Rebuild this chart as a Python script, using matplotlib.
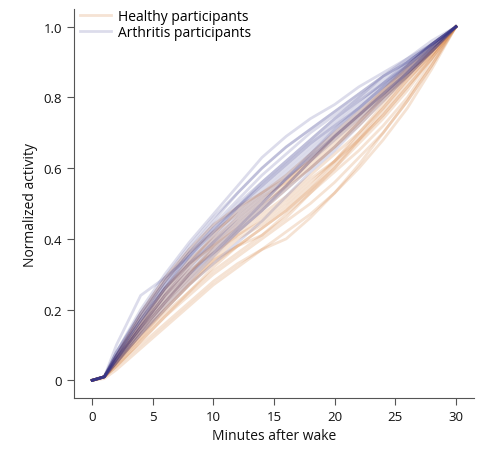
import matplotlib
matplotlib.use("Agg")
import matplotlib.pyplot as plt
from matplotlib.ticker import FuncFormatter

minutes = [0, 1, 2, 4, 6, 8, 10, 12, 14, 16, 18, 20, 22, 24, 26, 28, 30]

healthy = [
    [0, .005, .03, .09, .15, .21, .27, .32, .37, .42, .47, .53, .60, .68, .77, .88, 1],
    [0, .01, .04, .10, .16, .22, .28, .33, .37, .40, .46, .53, .61, .70, .79, .89, 1],
    [0, .01, .04, .11, .18, .24, .30, .35, .40, .45, .50, .56, .63, .70, .79, .89, 1],
    [0, .01, .05, .12, .19, .25, .31, .36, .41, .47, .53, .59, .65, .72, .80, .90, 1],
    [0, .01, .05, .13, .20, .27, .33, .38, .43, .48, .54, .60, .67, .74, .82, .91, 1],
    [0, .01, .05, .13, .21, .28, .34, .38, .41, .46, .53, .60, .68, .75, .83, .91, 1],
    [0, .01, .06, .14, .22, .29, .35, .41, .46, .51, .57, .62, .68, .76, .84, .92, 1],
    [0, .01, .06, .15, .23, .30, .37, .42, .47, .52, .58, .64, .70, .77, .85, .92, 1],
    [0, .01, .06, .15, .24, .32, .39, .45, .50, .55, .60, .66, .72, .79, .86, .93, 1],
    [0, .01, .07, .17, .26, .33, .38, .43, .48, .54, .60, .66, .73, .80, .87, .93, 1],
    [0, .01, .07, .18, .28, .36, .42, .47, .52, .56, .61, .67, .73, .80, .86, .93, 1],
    [0, .01, .06, .16, .25, .33, .41, .48, .53, .57, .62, .68, .74, .81, .88, .94, 1],
    [0, .01, .07, .19, .29, .37, .44, .49, .53, .58, .64, .70, .76, .82, .88, .94, 1],
    [0, .01, .05, .14, .22, .30, .38, .44, .49, .55, .62, .69, .75, .82, .89, .95, 1],
    [0, .01, .06, .15, .24, .31, .36, .41, .45, .50, .56, .62, .69, .77, .85, .92, 1],
    [0, .01, .05, .12, .20, .27, .34, .40, .44, .49, .55, .62, .70, .78, .86, .93, 1],
    [0, .01, .06, .16, .26, .34, .40, .46, .51, .56, .63, .69, .75, .81, .87, .93, 1],
    [0, .01, .04, .11, .18, .25, .32, .38, .43, .48, .54, .61, .68, .75, .83, .91, 1],
]

arthritis = [
    [0, .01, .10, .24, .29, .35, .42, .49, .56, .62, .68, .74, .79, .84, .89, .95, 1],
    [0, .01, .08, .20, .30, .39, .47, .55, .63, .69, .74, .78, .83, .87, .91, .95, 1],
    [0, .01, .08, .19, .29, .38, .46, .53, .60, .66, .71, .76, .81, .86, .90, .95, 1],
    [0, .01, .07, .18, .28, .36, .44, .51, .58, .64, .70, .75, .80, .85, .90, .95, 1],
    [0, .01, .07, .17, .27, .35, .42, .49, .55, .61, .67, .73, .79, .84, .89, .95, 1],
    [0, .01, .07, .17, .26, .34, .41, .48, .54, .60, .66, .72, .77, .83, .89, .94, 1],
    [0, .01, .06, .16, .25, .33, .40, .47, .53, .59, .65, .71, .77, .83, .88, .94, 1],
    [0, .01, .06, .15, .24, .32, .39, .46, .52, .58, .64, .70, .76, .82, .88, .94, 1],
    [0, .01, .06, .15, .24, .31, .38, .44, .50, .57, .63, .69, .75, .81, .87, .94, 1],
    [0, .01, .06, .14, .22, .30, .37, .43, .49, .55, .62, .68, .74, .80, .87, .93, 1],
    [0, .01, .07, .17, .26, .33, .39, .45, .51, .57, .64, .71, .77, .83, .89, .95, 1],
    [0, .01, .05, .13, .21, .28, .35, .42, .48, .54, .60, .66, .73, .80, .86, .93, 1],
    [0, .01, .05, .13, .20, .27, .33, .39, .45, .52, .59, .65, .72, .79, .86, .93, 1],
    [0, .01, .06, .16, .26, .35, .43, .50, .56, .62, .68, .74, .80, .86, .91, .96, 1],
    [0, .01, .08, .19, .28, .37, .45, .53, .60, .66, .71, .76, .81, .86, .90, .95, 1],
    [0, .01, .06, .15, .23, .30, .36, .42, .48, .55, .62, .69, .75, .81, .87, .94, 1],
    [0, .01, .07, .18, .27, .36, .43, .49, .55, .61, .67, .72, .78, .84, .90, .95, 1],
    [0, .01, .05, .14, .22, .29, .36, .43, .50, .57, .63, .69, .75, .81, .87, .93, 1],
]

x_ticks = [0, 5, 10, 15, 20, 25, 30]
y_ticks = [0, 0.2, 0.4, 0.6, 0.8, 1.0]

plt.rcParams['font.family'] = ['Open Sans', 'DejaVu Sans']

fig = plt.figure(figsize=(4.98, 4.56), dpi=100)
ax = fig.add_axes([0.1486, 0.125, 0.952 - 0.1486, 0.978 - 0.125])

h_color = "#d98a4c"
a_color = "#34348a"
for i, ys in enumerate(healthy):
    ax.plot(minutes, ys, color=h_color, alpha=0.24, lw=2,
            label="Healthy participants" if i == 0 else None)
for i, ys in enumerate(arthritis):
    ax.plot(minutes, ys, color=a_color, alpha=0.17, lw=2,
            label="Arthritis participants" if i == 0 else None)

ax.set_xlim(-1.5, 31.5)
ax.set_ylim(-0.05, 1.05)
ax.set_xticks(x_ticks)
ax.set_yticks(y_ticks)
ax.yaxis.set_major_formatter(FuncFormatter(lambda v, p: "0" if v == 0 else f"{v:.1f}"))
for s in ["top", "right"]:
    ax.spines[s].set_visible(False)
for s in ["left", "bottom"]:
    ax.spines[s].set_color("#555555")
ax.tick_params(colors="#555555", labelcolor="#111111", labelsize=9.5, length=5)
ax.set_xlabel("Minutes after wake", fontsize=10, color="#111111")
ax.set_ylabel("Normalized activity", fontsize=10, color="#111111")

leg = ax.legend(loc="upper left", frameon=False, fontsize=10, handlelength=2.2,
                handletextpad=0.5, borderaxespad=0.0, borderpad=0.0,
                bbox_to_anchor=(0.015, 1.0), labelspacing=0.05)

fig.savefig("out.png", dpi=100)
